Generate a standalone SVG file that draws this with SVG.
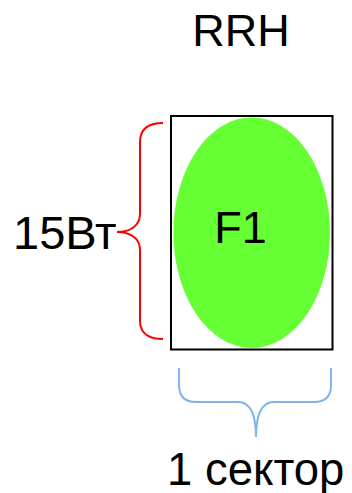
<svg xmlns="http://www.w3.org/2000/svg" width="352" height="493" viewBox="0 0 352 493">
<style>
text{font-family:"Liberation Sans",Arial,sans-serif;font-size:45px;fill:#000}
.brace{fill:none;stroke-width:2}
</style>
<rect width="352" height="493" fill="#fff"/>
<g id="rrh-label"><text x="241" y="46" text-anchor="middle">RRH</text></g>
<g id="rrh">
<rect x="171" y="116" width="161.5" height="233.5" fill="#fff" stroke="#000" stroke-width="2"/>
<ellipse cx="251.7" cy="232.7" rx="78.3" ry="115.3" fill="#66ff33"/>
<text x="240.5" y="243" text-anchor="middle">F1</text>
</g>
<g id="connectors">
<path class="brace" stroke="#ff0000" d="M163,123 C150,123 140,128 140,142 L140,214 C140,226 130,232 117,232 C130,232 140,238 140,250 L140,321 C140,334 150,339 163,339"/>
<path class="brace" stroke="#80b4e6" d="M179,368 L179,385 C179,396 185,402 196,402 L238,402 C250,402 256,415 256,437 C256,415 262,402 274,402 L314,402 C325,402 331,396 331,385 L331,368"/>
</g>
<g id="power-label"><text x="13" y="249" style="font-size:47px">15Вт</text></g>
<g id="sector-label"><text x="167" y="485" style="font-size:45.5px">1 сектор</text></g>
</svg>
